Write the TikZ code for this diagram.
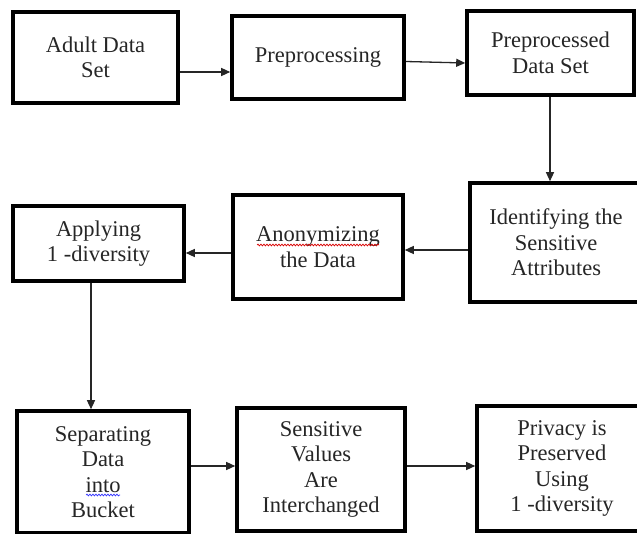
\documentclass[tikz,border=0pt]{standalone}
\usepackage{fontspec}
\setmainfont{Liberation Serif}
\usetikzlibrary{arrows.meta,decorations.pathmorphing}
\begin{document}
\begin{tikzpicture}[x=1pt,y=-1pt,
  box/.style={draw=black,line width=3.6pt,rectangle,align=center,inner sep=0pt,
    font=\fontsize{22.5}{25.5}\selectfont,text=black!85},
  arr/.style={draw=black!85,line width=1.3pt,-{Triangle[length=9pt,width=8pt]}},
  squig/.style={decorate,decoration={snake,amplitude=0.9pt,segment length=3pt},line width=0.7pt}]
\useasboundingbox (0,0) rectangle (637,534);
\clip (0,0) rectangle (637,534);
\fill[white] (0,0) rectangle (637,534);
% row 1
\node[box,minimum width=165pt,minimum height=91pt] (b1) at (95.5,57.5) {Adult Data\\Set};
\node[box,minimum width=172pt,minimum height=83pt] (b2) at (318,57.5) {Preprocessing};
\node[box,minimum width=167pt,minimum height=84pt] (b3) at (550.5,53) {Preprocessed\\Data Set};
% row 2
\node[box,minimum width=172pt,minimum height=119pt] (b4) at (556,242.5) {Identifying the\\Sensitive\\Attributes};
\node[box,minimum width=170pt,minimum height=104pt] (b5) at (318,247) {Anonymizing\\the Data};
\node[box,minimum width=171pt,minimum height=75pt] (b6) at (98.5,243.5) {Applying\\1 -diversity};
% row 3
\node[box,minimum width=172pt,minimum height=122pt] (b7) at (103,472) {Separating\\Data\\into\\Bucket};
\node[box,minimum width=168pt,minimum height=123pt] (b8) at (321,469.5) {Sensitive\\Values\\Are\\Interchanged};
\node[box,minimum width=170pt,minimum height=125pt] (b9) at (562,468.5) {Privacy is\\Preserved\\Using\\1 -diversity};
% connectors
\draw[arr] ([yshift=-14.5pt]b1.east) -- ([yshift=-14.5pt]b2.west);
\draw[arr] ([yshift=-4pt]b2.east) -- ([yshift=-10pt]b3.west);
\draw[arr] ([xshift=-0.5pt]b3.south) -- ([xshift=-0.5pt]b3.south |- b4.north);
\draw[arr] ([yshift=-7.5pt]b4.west) -- ([yshift=-3pt]b5.east);
\draw[arr] ([yshift=-6pt]b5.west) -- ([yshift=-9.5pt]b6.east);
\draw[arr] ([xshift=-7.5pt]b6.south) -- ([xshift=-7.5pt]b6.south |- b7.north);
\draw[arr] ([yshift=6pt]b7.east) -- ([yshift=3.5pt]b8.west);
\draw[arr] ([yshift=3.5pt]b8.east) -- ([yshift=2.5pt]b9.west);
% spell-check marks
\draw[squig,red!85!black] ([xshift=-61pt,yshift=2pt]b5.center) -- ([xshift=61pt,yshift=2pt]b5.center);
\draw[squig,blue!80] ([xshift=-17pt,yshift=-23pt]b7.center) -- ([xshift=17pt,yshift=-23pt]b7.center);
\end{tikzpicture}
\end{document}
